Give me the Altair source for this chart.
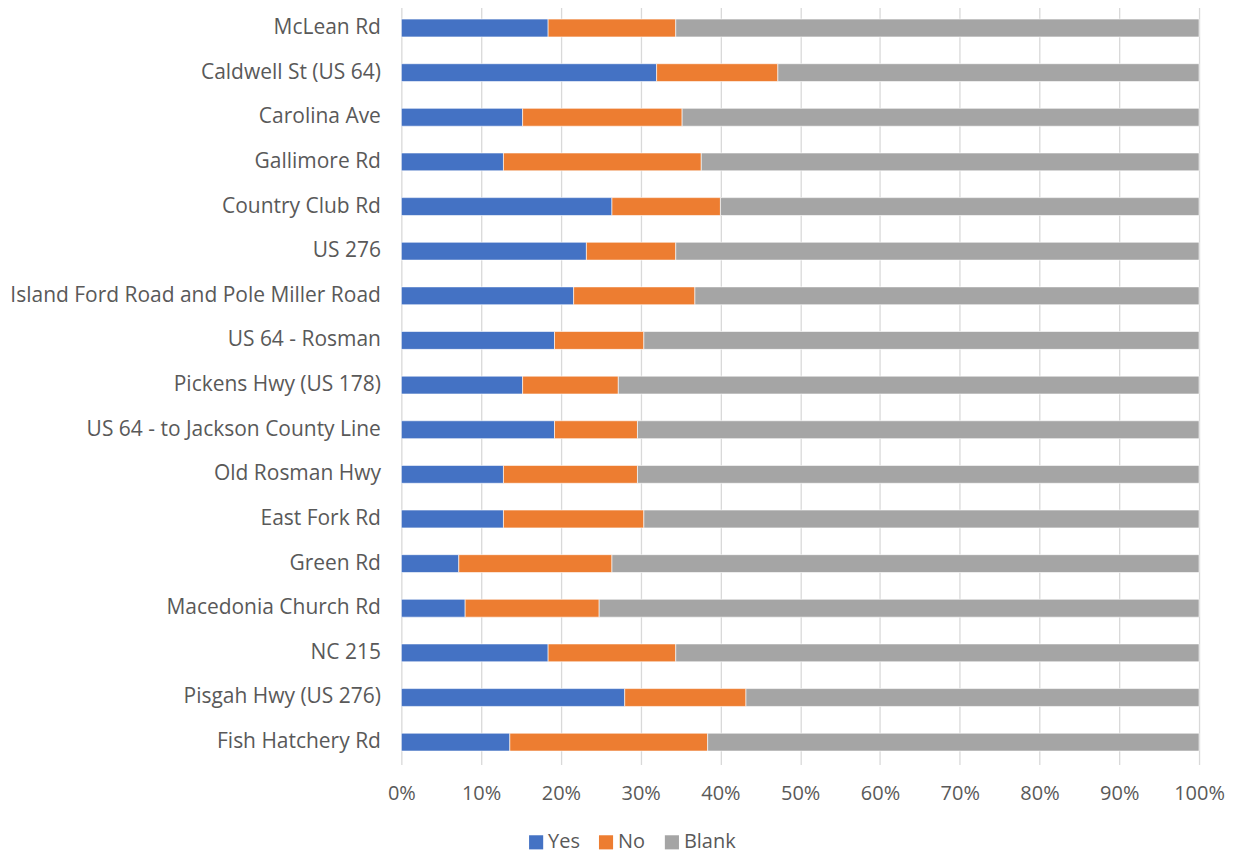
import altair as alt
import pandas as pd

roads = ["McLean Rd", "Caldwell St (US 64)", "Carolina Ave", "Gallimore Rd",
         "Country Club Rd", "US 276", "Island Ford Road and Pole Miller Road",
         "US 64 - Rosman", "Pickens Hwy (US 178)", "US 64 - to Jackson County Line",
         "Old Rosman Hwy", "East Fork Rd", "Green Rd", "Macedonia Church Rd",
         "NC 215", "Pisgah Hwy (US 276)", "Fish Hatchery Rd"]
yes = [23, 40, 19, 16, 33, 29, 27, 24, 19, 24, 16, 16, 9, 10, 23, 35, 17]
no = [20, 19, 25, 31, 17, 14, 19, 14, 15, 13, 21, 22, 24, 21, 20, 19, 31]
blank = [82, 66, 81, 78, 75, 82, 79, 87, 91, 88, 88, 87, 92, 94, 82, 71, 77]

series = ["Yes", "No", "Blank"]
colors = ["#4472C4", "#ED7D31", "#A5A5A5"]

rows = []
for i, r in enumerate(roads):
    for j, (s, vals) in enumerate(zip(series, [yes, no, blank])):
        rows.append({"road": r, "series": s, "value": vals[i], "ord": j})
df = pd.DataFrame(rows)

FONT = "Open Sans"
chart = alt.Chart(df).mark_bar(stroke="white", strokeWidth=0.6).encode(
    y=alt.Y("road:N", sort=roads, title=None,
            scale=alt.Scale(paddingInner=0.6, paddingOuter=0.3),
            axis=alt.Axis(labelFontSize=21, labelColor="#595959", labelFont=FONT,
                          ticks=False, domain=False, labelPadding=21, labelLimit=0,
                          minExtent=394, maxExtent=394, grid=False)),
    x=alt.X("value:Q", stack="normalize", title=None,
            scale=alt.Scale(domain=[0, 1], nice=False),
            axis=alt.Axis(format=".0%", values=[i / 10 for i in range(11)],
                          labelFontSize=20, labelColor="#595959", labelFont=FONT,
                          labelFlush=False, ticks=False, domain=False, labelPadding=19,
                          grid=True, gridColor="#d9d9d9", gridWidth=1.3)),
    color=alt.Color("series:N", sort=series,
                    scale=alt.Scale(domain=series, range=colors),
                    legend=alt.Legend(title=None, orient="none", direction="horizontal",
                                      legendX=125, legendY=828, padding=0,
                                      symbolType="square", symbolSize=200,
                                      symbolStrokeWidth=0,
                                      labelFontSize=20, labelColor="#595959",
                                      labelFont=FONT, columnPadding=16,
                                      labelOffset=2)),
    order=alt.Order("ord:Q"),
).properties(width=799, height=760,
             padding={"top": -3, "left": 0, "right": 0, "bottom": 0}
             ).configure_view(stroke=None)

chart.save("out.html", embed_options={"renderer": "svg", "actions": False})
